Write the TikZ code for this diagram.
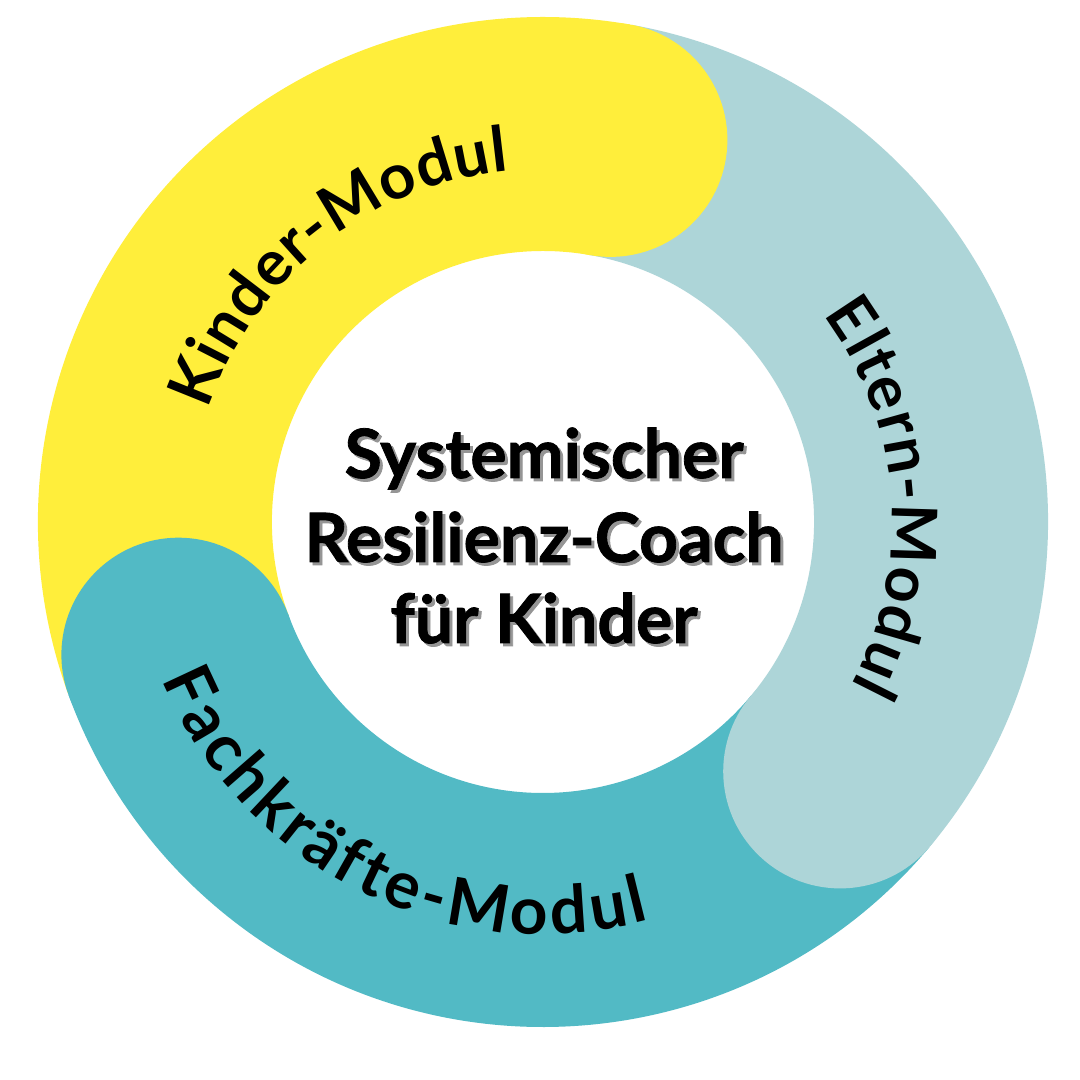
\documentclass[tikz,border=0pt]{standalone}
\usepackage{fontspec}
\usetikzlibrary{decorations.text}
\newfontfamily\centerfont[BoldFeatures={FakeBold=1.2}]{Lato}
\newfontfamily\labelfont{Lato}
\definecolor{yel}{HTML}{FFEE3B}
\definecolor{lblue}{HTML}{ADD5D8}
\definecolor{teal}{HTML}{52BAC5}
\definecolor{shadowgrey}{HTML}{959595}
\tikzset{
  ringband/.style={line width=234pt},
  titletext/.style={anchor=base, inner sep=0pt, font=\centerfont\bfseries\fontsize{68pt}{68pt}\selectfont},
  titleshadow/.style={titletext, text=shadowgrey},
}
\begin{document}
\begin{tikzpicture}[x=1pt,y=1pt]
\fill[white] (0,0) rectangle (1080,1080);
\useasboundingbox (0,0) rectangle (1080,1080);
\begin{scope}[shift={(543,558)}]
  % ring bodies
  \draw[ringband, draw=yel]   (200:388) arc[start angle=200, end angle=80,  radius=388];
  \draw[ringband, draw=lblue] (80:388)  arc[start angle=80,  end angle=-40, radius=388];
  \draw[ringband, draw=teal]  (-40:388) arc[start angle=-40, end angle=-160, radius=388];
  % rounded heads
  \fill[yel]   (80:388)  circle[radius=117];
  \fill[lblue] (-40:388) circle[radius=117];
  \fill[teal]  (200:388) circle[radius=117];
  % labels along the ring
  \path[decorate, decoration={text along path, text align=fit to path,
     text={|\labelfont\bfseries\fontsize{63pt}{63pt}\selectfont|Kinder-Modul}}]
     (161.5:353) arc[start angle=161.5, end angle=95.5, radius=353];
  \path[decorate, decoration={text along path, text align=fit to path,
     text={|\labelfont\bfseries\fontsize{63pt}{63pt}\selectfont|Eltern-Modul}}]
     (36.5:349) arc[start angle=36.5, end angle=-28, radius=349];
  \path[decorate, decoration={text along path, text align=fit to path,
     text={|\labelfont\bfseries\fontsize{66pt}{66pt}\selectfont|Fachkräfte-Modul}}]
     (202.5:412) arc[start angle=202.5, end angle=285, radius=412];
\end{scope}
% centre title with drop shadow
\node[titleshadow] (s1) at (547,599) {Systemischer};
\node[titleshadow] (s2) at (547,515) {Resilienz-Coach};
\node[titleshadow] (s3) at (547,434) {für Kinder};
\node[titletext] (t1) at (544,602) {Systemischer};
\node[titletext] (t2) at (544,518) {Resilienz-Coach};
\node[titletext] (t3) at (544,437) {für Kinder};
\end{tikzpicture}
\end{document}
